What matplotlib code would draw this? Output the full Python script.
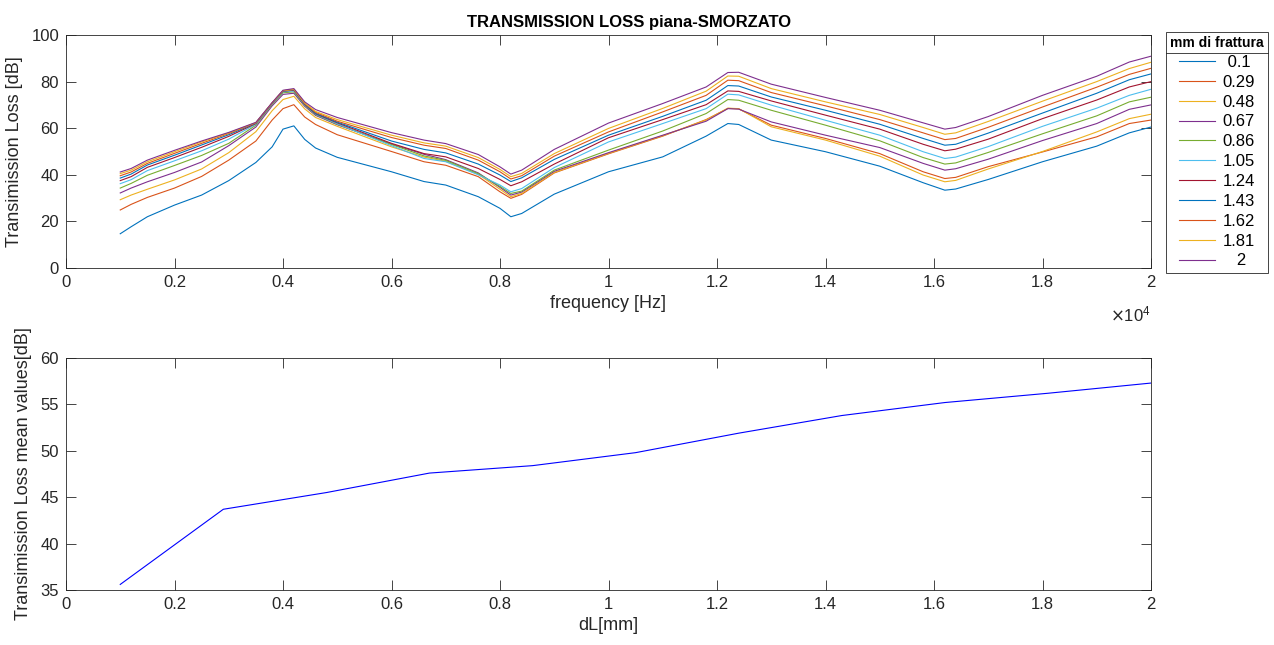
import numpy as np
import matplotlib
matplotlib.use('Agg')
import matplotlib.pyplot as plt
from matplotlib.lines import Line2D
from matplotlib.ticker import FuncFormatter

plt.rcParams['font.family'] = ['Liberation Sans', 'DejaVu Sans']

# frequency grid [Hz]
freq = [1000, 1200, 1500, 2000, 2500, 3000, 3500, 3800, 4000, 4200, 4400, 4600, 5000,
        6000, 6600, 7000, 7600, 8000, 8200, 8400, 9000, 10000, 11000, 11800,
        12200, 12400, 13000, 14000, 15000, 15800, 16200, 16400, 17000, 18000,
        19000, 19600, 20000]

# transmission loss [dB], one list per fracture size
tl_010 = [14.7, 17.7, 22.0, 27.0, 31.3, 37.5, 45.3, 52.0, 59.6, 61.0, 55.2, 51.5, 47.5,
          41.3, 37.1, 35.6, 30.6, 25.6, 22.0, 23.4, 31.7, 41.3, 47.7, 56.6,
          62.0, 61.6, 54.9, 49.9, 43.7, 36.6, 33.4, 33.9, 38.0, 45.6,
          52.3, 58.0, 60.5]
tl_029 = [24.9, 27.3, 30.3, 34.3, 39.3, 46.3, 54.5, 63.5, 68.4, 70.1, 64.8, 61.6, 57.2,
          50.0, 45.6, 44.1, 39.2, 32.7, 29.9, 31.6, 40.8, 49.0, 56.6, 63.7,
          68.5, 68.3, 61.3, 55.6, 49.1, 41.3, 38.4, 38.9, 43.5, 49.8,
          56.3, 62.0, 63.5]
tl_048 = [29.3, 31.3, 33.8, 37.8, 42.5, 49.5, 58.5, 67.5, 72.3, 73.7, 68.3, 64.6, 60.8,
          52.0, 47.6, 45.8, 40.2, 33.8, 30.6, 32.0, 41.0, 49.2, 56.8, 63.5,
          68.6, 68.4, 60.6, 54.9, 48.0, 39.9, 37.0, 37.6, 42.5, 50.0,
          58.4, 64.1, 66.0]
tl_067 = [32.2, 34.3, 37.0, 41.0, 45.5, 52.5, 60.5, 69.6, 74.5, 75.0, 69.4, 65.5, 61.5,
          53.2, 48.8, 46.5, 40.8, 34.6, 31.3, 32.6, 41.5, 49.5, 57.0, 63.0,
          68.4, 68.2, 62.7, 57.0, 51.7, 44.9, 42.0, 42.6, 46.7, 54.7,
          62.0, 68.1, 70.0]
tl_086 = [34.3, 36.3, 39.8, 44.0, 48.3, 53.5, 61.3, 70.2, 75.2, 75.6, 69.8, 65.8, 61.7,
          53.0, 48.1, 46.2, 40.5, 35.0, 32.0, 33.0, 42.0, 50.6, 58.8, 66.3,
          72.3, 72.0, 67.7, 61.3, 54.6, 47.4, 44.6, 45.1, 49.6, 57.6,
          65.3, 71.3, 73.3]
tl_105 = [36.2, 37.9, 41.8, 46.0, 50.3, 55.3, 61.7, 70.5, 75.6, 76.0, 70.0, 66.0, 61.9,
          52.5, 47.0, 45.6, 40.0, 35.6, 32.7, 34.1, 43.1, 54.1, 62.0, 68.4,
          74.6, 74.3, 69.9, 63.4, 57.0, 49.9, 47.0, 47.6, 52.1, 60.8,
          68.6, 74.1, 76.7]
tl_124 = [37.5, 39.2, 43.2, 47.4, 51.8, 56.5, 62.0, 70.7, 75.9, 76.3, 70.2, 66.2, 62.3,
          53.5, 49.1, 47.7, 42.7, 38.0, 35.3, 37.0, 44.6, 55.9, 63.7, 70.1,
          76.0, 75.8, 71.7, 65.6, 59.6, 53.1, 50.3, 51.0, 55.3, 64.1,
          72.1, 77.7, 80.0]
tl_143 = [38.6, 40.3, 44.2, 48.4, 52.8, 57.2, 62.2, 70.8, 76.0, 76.5, 70.4, 66.4, 62.6,
          54.5, 50.9, 49.4, 44.6, 39.9, 37.1, 38.7, 46.6, 57.0, 65.1, 72.0,
          78.3, 78.1, 73.4, 67.7, 61.7, 55.6, 52.7, 53.1, 57.9, 66.5,
          75.0, 80.8, 83.3]
tl_162 = [39.6, 41.2, 44.9, 49.2, 53.5, 57.7, 62.3, 70.9, 76.1, 76.6, 70.6, 66.8, 63.0,
          56.0, 52.7, 51.3, 46.3, 41.3, 38.2, 39.6, 48.0, 58.4, 67.0, 74.1,
          80.6, 80.4, 75.3, 69.6, 63.7, 58.0, 55.1, 55.6, 60.4, 69.1,
          77.6, 83.1, 85.7]
tl_181 = [40.5, 42.0, 45.6, 49.9, 54.1, 58.0, 62.4, 70.9, 76.1, 76.7, 70.8, 67.2, 63.7,
          57.0, 53.7, 52.3, 47.4, 42.3, 39.2, 40.6, 49.1, 59.9, 68.5, 75.9,
          82.4, 82.3, 77.0, 71.3, 65.9, 60.3, 57.4, 58.0, 62.9, 71.6,
          80.0, 85.6, 88.3]
tl_200 = [41.2, 42.7, 46.3, 50.5, 54.5, 58.2, 62.5, 71.0, 76.3, 77.0, 71.3, 68.0, 64.6,
          58.1, 54.9, 53.4, 48.7, 43.4, 40.3, 42.0, 50.9, 62.2, 70.6, 77.7,
          83.9, 84.0, 78.9, 73.2, 67.7, 62.3, 59.6, 60.3, 65.0, 74.1,
          82.3, 88.4, 90.9]

mm_labels = [' 0.1', '0.29', '0.48', '0.67', '0.86', '1.05', '1.24', '1.43',
             '1.62', '1.81', '   2']

# mean values
dL = [0.1, 0.29, 0.48, 0.67, 0.86, 1.05, 1.24, 1.43, 1.62, 1.81, 2.0]
tl_mean = [35.6, 43.7, 45.5, 47.6, 48.4, 49.8, 51.9, 53.8, 55.2, 56.2, 57.3]

curves = [tl_010, tl_029, tl_048, tl_067, tl_086, tl_105, tl_124, tl_143,
          tl_162, tl_181, tl_200]
colors = ['#0072BD', '#D95319', '#EDB120', '#7E2F8E', '#77AC30', '#4DBEEE',
          '#A2142F', '#0072BD', '#D95319', '#EDB120', '#7E2F8E']

W, H = 1274, 645
fig = plt.figure(figsize=(W / 100, H / 100), dpi=100)
ax1 = fig.add_axes([66 / W, 1 - 268 / H, 1085 / W, 233 / H])
ax2 = fig.add_axes([66 / W, 1 - 590 / H, 1085 / W, 232 / H])

axcol = '#262626'


def matlab_look(ax):
    for s in ax.spines.values():
        s.set_color(axcol)
        s.set_linewidth(0.6)
    ax.tick_params(direction='in', top=True, right=True, length=7, width=0.6,
                   colors=axcol, labelsize=12, pad=5)


# --- top: TL spectra ---
lines = []
for y, c in zip(curves, colors):
    ln, = ax1.plot(freq, y, color=c, lw=0.8)
    lines.append(ln)
ax1.set_xlim(0, 20000)
ax1.set_ylim(0, 100)
ax1.set_xticks(np.arange(0, 20001, 2000))
ax1.set_yticks(np.arange(0, 101, 20))
ax1.xaxis.set_major_formatter(FuncFormatter(lambda v, p: f'{v / 1e4:g}'))
matlab_look(ax1)
ax1.set_xlabel('frequency [Hz]', fontsize=13, color=axcol, labelpad=4)
ax1.set_ylabel('Transimission Loss [dB]', fontsize=13, color=axcol, labelpad=6)
ax1.set_title('TRANSMISSION LOSS piana-SMORZATO', fontsize=12, fontweight='bold',
              color='black', pad=6, x=0.519)
ax1.text(1.0, -0.155, r'$\times\mathregular{10^{4}}$', transform=ax1.transAxes,
         ha='right', va='top', fontsize=12, color=axcol)

leg = ax1.legend(lines, mm_labels, loc='upper left',
                 bbox_to_anchor=(1166 / W, 1 - 32 / H), bbox_transform=fig.transFigure,
                 borderaxespad=0, title='mm di frattura',
                 title_fontproperties={'weight': 'bold', 'size': 10},
                 fontsize=12, frameon=True, fancybox=False, framealpha=1,
                 edgecolor=axcol, handlelength=2.2, handletextpad=0.45,
                 labelspacing=0.29, borderpad=0.25)
leg.get_frame().set_linewidth(0.6)
for t in leg.get_texts():
    t.set_color('black')

# --- bottom: mean TL ---
ax2.plot(dL, tl_mean, color='#0000FF', lw=0.8)
ax2.set_xlim(0, 2)
ax2.set_ylim(35, 60)
ax2.set_xticks(np.arange(0, 2.01, 0.2))
ax2.set_yticks(np.arange(35, 61, 5))
ax2.xaxis.set_major_formatter(FuncFormatter(lambda v, p: f'{v:g}'))
matlab_look(ax2)
ax2.set_xlabel('dL[mm]', fontsize=13, color=axcol, labelpad=4)
ax2.set_ylabel('Transimission Loss mean values[dB]', fontsize=13, color=axcol,
               labelpad=6)

# separator line under the legend title
fig.canvas.draw()
inv = fig.transFigure.inverted()
fb = leg.get_frame().get_window_extent()
tb = leg.get_title().get_window_extent()
ysep = tb.y0 - 3
(x0, y0), (x1, _) = inv.transform([(fb.x0, ysep), (fb.x1, ysep)])
fig.add_artist(Line2D([x0, x1], [y0, y0], transform=fig.transFigure,
                      color=axcol, lw=0.6))

fig.savefig('out.png', dpi=100)
